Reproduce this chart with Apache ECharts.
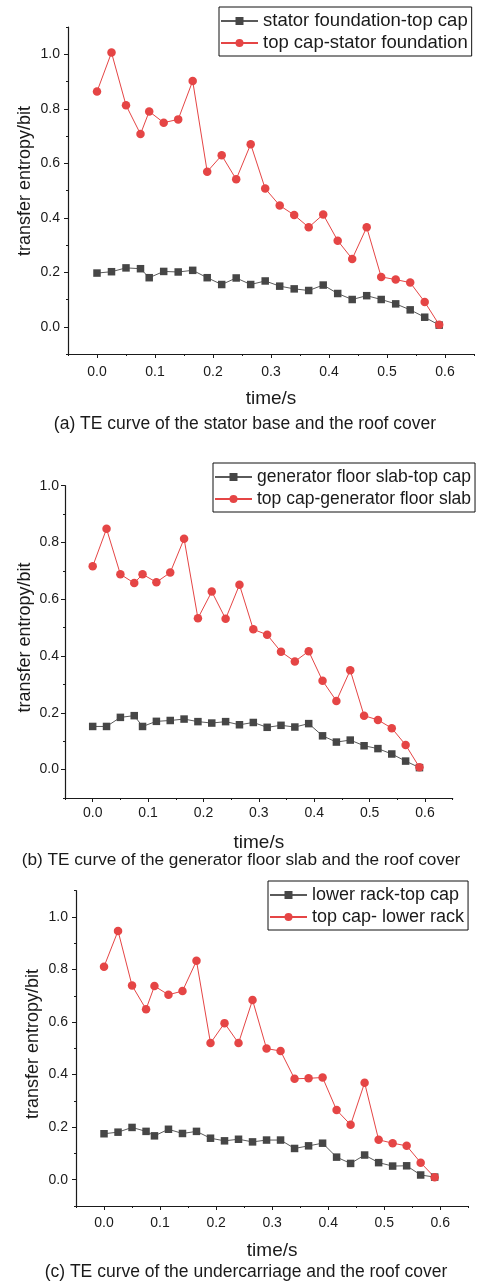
<!DOCTYPE html>
<html>
<head>
<meta charset="utf-8">
<title>TE curves</title>
<script src="https://cdn.jsdelivr.net/npm/echarts@6/dist/echarts.min.js"></script>
<style>
  html, body { margin: 0; padding: 0; background: #fff; }
  #chart { width: 478px; height: 1283px; }
</style>
</head>
<body>
<div id="chart"></div>
<script>
// Sampling instants (s), shared by all three panels
const time = [0, 0.025, 0.05, 0.075, 0.09, 0.115, 0.14, 0.165, 0.19, 0.215, 0.24, 0.265, 0.29,
              0.315, 0.34, 0.365, 0.39, 0.415, 0.44, 0.465, 0.49, 0.515, 0.54, 0.565, 0.59];

// (a) stator foundation <-> top cap
const statorToCap = [0.197, 0.202, 0.216, 0.213, 0.180, 0.203, 0.201, 0.207, 0.180, 0.155, 0.179, 0.155, 0.168,
                     0.149, 0.139, 0.133, 0.153, 0.122, 0.100, 0.114, 0.100, 0.084, 0.062, 0.035, 0.006];
const capToStator = [0.863, 1.006, 0.813, 0.707, 0.790, 0.749, 0.761, 0.902, 0.569, 0.629, 0.541, 0.670, 0.507,
                     0.445, 0.410, 0.365, 0.412, 0.316, 0.249, 0.365, 0.183, 0.173, 0.162, 0.091, 0.007];

// (b) generator floor slab <-> top cap
const slabToCap = [0.152, 0.152, 0.184, 0.190, 0.152, 0.170, 0.173, 0.178, 0.169, 0.164, 0.169, 0.158, 0.166,
                   0.149, 0.156, 0.150, 0.162, 0.119, 0.097, 0.104, 0.084, 0.074, 0.055, 0.030, 0.007];
const capToSlab = [0.716, 0.848, 0.688, 0.657, 0.688, 0.660, 0.694, 0.813, 0.533, 0.627, 0.531, 0.651, 0.494,
                   0.475, 0.415, 0.381, 0.417, 0.313, 0.242, 0.350, 0.190, 0.175, 0.146, 0.087, 0.008];

// (c) lower rack <-> top cap
const rackToCap = [0.175, 0.181, 0.199, 0.184, 0.167, 0.192, 0.176, 0.184, 0.158, 0.148, 0.154, 0.144, 0.151,
                   0.151, 0.119, 0.129, 0.139, 0.086, 0.062, 0.094, 0.065, 0.052, 0.053, 0.018, 0.010];
const capToRack = [0.811, 0.947, 0.739, 0.649, 0.737, 0.704, 0.718, 0.833, 0.520, 0.596, 0.520, 0.684, 0.499,
                   0.490, 0.384, 0.386, 0.389, 0.265, 0.209, 0.369, 0.152, 0.139, 0.129, 0.065, 0.009];

// Tick positions
const xMajor = [0, 0.1, 0.2, 0.3, 0.4, 0.5, 0.6];
const xMinor = [-0.05, 0.05, 0.15, 0.25, 0.35, 0.45, 0.55, 0.65];
const yMajor = [0, 0.2, 0.4, 0.6, 0.8, 1.0];
const yMinorTall = [-0.1, 0.1, 0.3, 0.5, 0.7, 0.9, 1.1];
const yMinorShort = [-0.1, 0.1, 0.3, 0.5, 0.7, 0.9];

const seriesNames = [
  ['stator foundation-top cap', 'top cap-stator foundation'],
  ['generator floor slab-top cap', 'top cap-generator floor slab'],
  ['lower rack-top cap', 'top cap- lower rack']
];
const captions = [
  '(a) TE curve of the stator base and the roof cover',
  '(b) TE curve of the generator floor slab and the roof cover',
  '(c) TE curve of the undercarriage and the roof cover'
];
const xName = 'time/s';
const yName = 'transfer entropy/bit';

const FONT = '"Liberation Sans", Arial, Helvetica, sans-serif';
const INK = '#1a1a1a';

// Layout of the three stacked panels
const panels = [
  { grid: { left: 68, top: 27, width: 406, height: 327 }, yMax: 1.1, yMinor: yMinorTall,
    black: statorToCap, red: capToStator, xLabelMargin: 11, yLabelMargin: 8,
    yTitle: { x: 25, y: 181 },
    legend: { left: 219, top: 7, fontSize: 18.5 }, caption: { x: 245, y: 424, size: 17.5 } },
  { grid: { left: 65, top: 485.7, width: 387.7, height: 312.3 }, yMax: 1.0, yMinor: yMinorShort,
    black: slabToCap, red: capToSlab, xLabelMargin: 8.5, yLabelMargin: 6,
    yTitle: { x: 25, y: 637.5 },
    legend: { left: 213, top: 463, fontSize: 17.5 }, caption: { x: 241, y: 860, size: 17.2 } },
  { grid: { left: 76, top: 890.7, width: 392.3, height: 315.3 }, yMax: 1.1, yMinor: yMinorTall,
    black: rackToCap, red: capToRack, xLabelMargin: 10, yLabelMargin: 8,
    yTitle: { x: 33.3, y: 1044 },
    legend: { left: 268, top: 881, fontSize: 18 }, caption: { x: 246, y: 1272, size: 17.5 } }
];

const grids = [], xAxes = [], yAxes = [], series = [], legends = [], graphics = [];

panels.forEach((p, i) => {
  grids.push(Object.assign({ containLabel: false }, p.grid));

  // main x axis (line, major ticks, labels, name)
  xAxes.push({
    type: 'value', gridIndex: i, position: 'bottom', min: -0.05, max: 0.65,
    name: xName, nameLocation: 'middle', nameGap: 35,
    nameTextStyle: { fontFamily: FONT, fontSize: 19, color: INK },
    axisLine: { show: true, onZero: false, lineStyle: { color: INK, width: 1.2 } },
    axisTick: { show: true, length: 4, customValues: xMajor, lineStyle: { color: INK, width: 1 } },
    axisLabel: { show: true, customValues: xMajor, margin: p.xLabelMargin, fontFamily: FONT, fontSize: 14, color: INK,
                 formatter: v => v.toFixed(1) },
    splitLine: { show: false }
  });
  // minor x ticks
  xAxes.push({
    type: 'value', gridIndex: i, position: 'bottom', min: -0.05, max: 0.65, silent: true,
    axisLine: { show: false, onZero: false },
    axisTick: { show: true, length: 2, customValues: xMinor, lineStyle: { color: INK, width: 1 } },
    axisLabel: { show: false }, splitLine: { show: false }
  });

  // main y axis
  yAxes.push({
    type: 'value', gridIndex: i, position: 'left', min: -0.1, max: p.yMax,
    axisLine: { show: true, onZero: false, lineStyle: { color: INK, width: 1.2 } },
    axisTick: { show: true, length: 4, customValues: yMajor, lineStyle: { color: INK, width: 1 } },
    axisLabel: { show: true, customValues: yMajor, margin: p.yLabelMargin, fontFamily: FONT, fontSize: 14, color: INK,
                 formatter: v => v.toFixed(1) },
    splitLine: { show: false }
  });
  // minor y ticks
  yAxes.push({
    type: 'value', gridIndex: i, position: 'left', min: -0.1, max: p.yMax, silent: true,
    axisLine: { show: false, onZero: false },
    axisTick: { show: true, length: 2, customValues: p.yMinor, lineStyle: { color: INK, width: 1 } },
    axisLabel: { show: false }, splitLine: { show: false }
  });

  const names = seriesNames[i];
  series.push({
    name: names[0], type: 'line', xAxisIndex: 2 * i, yAxisIndex: 2 * i,
    data: time.map((t, k) => [t, p.black[k]]),
    symbol: 'rect', symbolSize: 7.5,
    itemStyle: { color: '#464646' },
    lineStyle: { color: '#5a5a5a', width: 1 },
    animation: false
  });
  series.push({
    name: names[1], type: 'line', xAxisIndex: 2 * i, yAxisIndex: 2 * i,
    data: time.map((t, k) => [t, p.red[k]]),
    symbol: 'circle', symbolSize: 8.5,
    itemStyle: { color: '#e54545' },
    lineStyle: { color: '#e54545', width: 1 },
    animation: false
  });

  legends.push({
    data: names, orient: 'vertical', left: p.legend.left, top: p.legend.top,
    itemWidth: 37, itemHeight: 10, itemGap: 2, padding: [4, 4, 3, 1],
    borderColor: '#111', borderWidth: 1, backgroundColor: '#fff', borderRadius: 0,
    selectedMode: false,
    textStyle: { fontFamily: FONT, fontSize: p.legend.fontSize, color: INK, lineHeight: 20 }
  });

  // vertical y-axis title
  graphics.push({
    type: 'text', x: p.yTitle.x, y: p.yTitle.y, rotation: Math.PI / 2,
    style: { text: yName, font: '18px ' + FONT, fill: INK, align: 'center', verticalAlign: 'middle' }
  });
  // panel caption
  graphics.push({
    type: 'text', x: p.caption.x, y: p.caption.y,
    style: { text: captions[i], font: p.caption.size + 'px ' + FONT, fill: INK, align: 'center', verticalAlign: 'middle' }
  });
});

const chart = echarts.init(document.getElementById('chart'), null, { renderer: 'canvas' });
chart.setOption({
  backgroundColor: '#fff',
  animation: false,
  grid: grids,
  xAxis: xAxes,
  yAxis: yAxes,
  legend: legends,
  series: series,
  graphic: graphics
});
</script>
</body>
</html>
